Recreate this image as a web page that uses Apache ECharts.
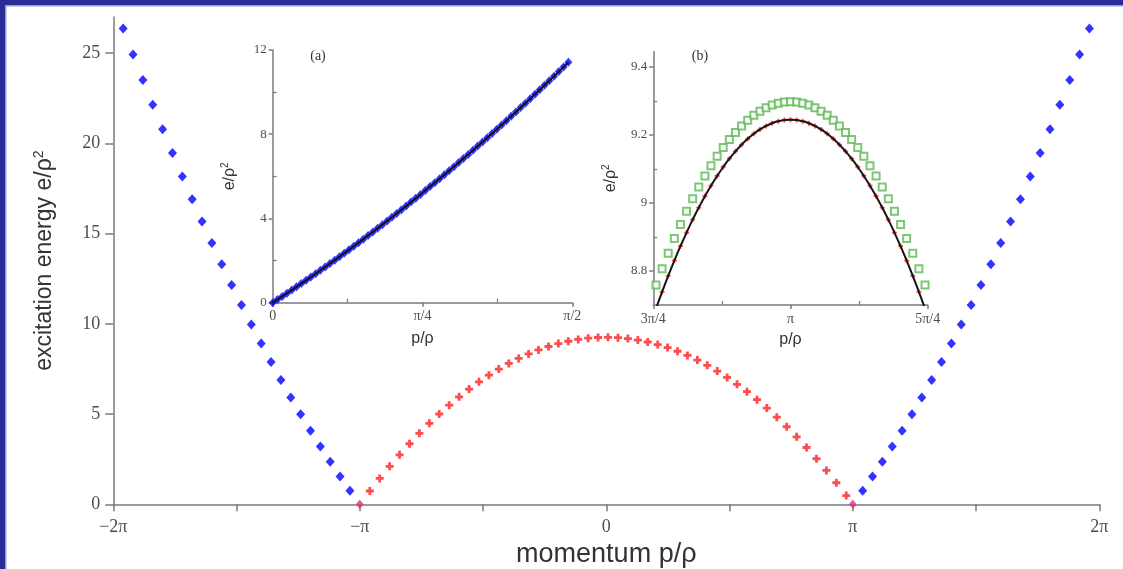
<!DOCTYPE html>
<html>
<head>
<meta charset="utf-8">
<script src="https://cdn.jsdelivr.net/npm/echarts@6/dist/echarts.min.js"></script>
<style>
  html, body { margin: 0; padding: 0; background: #ffffff; }
  #chart { width: 1123px; height: 569px; }
</style>
</head>
<body>
<div id="chart"></div>
<script>
const PI = Math.PI;

// ---- main panel: particle branch (blue), right and left of the zone edge
const blueRightP = [3.2673, 3.3929, 3.5186, 3.6443, 3.7699, 3.8956, 4.0212, 4.1469, 4.2726, 4.3982, 4.5239, 4.6496,
  4.7752, 4.9009, 5.0265, 5.1522, 5.2779, 5.4035, 5.5292, 5.6549, 5.7805, 5.9062, 6.0319, 6.1575];
const blueLeftP = [-3.2673, -3.3929, -3.5186, -3.6443, -3.7699, -3.8956, -4.0212, -4.1469, -4.2726, -4.3982, -4.5239, -4.6496,
  -4.7752, -4.9009, -5.0265, -5.1522, -5.2779, -5.4035, -5.5292, -5.6549, -5.7805, -5.9062, -6.0319, -6.1575];
const blueE = [0.757, 1.544, 2.360, 3.206, 4.082, 4.988, 5.922, 6.887, 7.882, 8.906, 9.960, 11.044,
  12.157, 13.300, 14.473, 15.675, 16.908, 18.168, 19.461, 20.782, 22.132, 23.513, 24.923, 26.363];

// ---- main panel: hole branch (red) between -π and π
const redP = [-3.014, -2.888, -2.761, -2.635, -2.508, -2.382, -2.255, -2.129, -2.002, -1.876, -1.749, -1.623,
  -1.496, -1.370, -1.243, -1.117, -0.990, -0.864, -0.737, -0.611, -0.484, -0.358, -0.231, -0.105, 0.022,
  0.149, 0.275, 0.402, 0.528, 0.655, 0.781, 0.908, 1.034, 1.161, 1.287, 1.414, 1.540, 1.667, 1.793,
  1.920, 2.046, 2.173, 2.299, 2.426, 2.552, 2.679, 2.805, 2.932, 3.058];
const redE = [0.737, 1.434, 2.106, 2.744, 3.356, 3.934, 4.486, 5.004, 5.495, 5.954, 6.385, 6.784,
  7.155, 7.493, 7.805, 8.083, 8.334, 8.553, 8.744, 8.903, 9.033, 9.133, 9.203, 9.243, 9.253,
  9.232, 9.182, 9.101, 8.992, 8.851, 8.681, 8.480, 8.251, 7.989, 7.700, 7.379, 7.030, 6.648, 6.239,
  5.797, 5.329, 4.826, 4.298, 3.736, 3.147, 2.525, 1.877, 1.194, 0.486];

// branches meet at the zone edges
const edgeP = [-3.1416, 3.1416];
const edgeE = [0, 0];

// ---- inset (a): particle branch, 0 ≤ p ≤ π/2
const insetAQ = [0, 0.025, 0.05, 0.075, 0.1, 0.125, 0.15, 0.175, 0.2, 0.225, 0.25, 0.275, 0.3, 0.325, 0.35, 0.375,
  0.4, 0.425, 0.45, 0.475, 0.5, 0.525, 0.55, 0.575, 0.6, 0.625, 0.65, 0.675, 0.7, 0.725, 0.75, 0.775,
  0.8, 0.825, 0.85, 0.875, 0.9, 0.925, 0.95, 0.975, 1.0, 1.025, 1.05, 1.075, 1.1, 1.125, 1.15, 1.175,
  1.2, 1.225, 1.25, 1.275, 1.3, 1.325, 1.35, 1.375, 1.4, 1.425, 1.45, 1.475, 1.5, 1.525, 1.55];
const insetAE = [0, 0.1482, 0.2977, 0.4483, 0.6000, 0.7530, 0.9071, 1.0624, 1.2188, 1.3765, 1.5353, 1.6953,
  1.8565, 2.0188, 2.1823, 2.3470, 2.5129, 2.6799, 2.8481, 3.0175, 3.1881, 3.3598, 3.5328, 3.7069,
  3.8821, 4.0586, 4.2362, 4.4150, 4.5950, 4.7761, 4.9584, 5.1419, 5.3266, 5.5124, 5.6994, 5.8876,
  6.0770, 6.2675, 6.4592, 6.6521, 6.8462, 7.0415, 7.2379, 7.4355, 7.6342, 7.8342, 8.0353, 8.2376,
  8.4410, 8.6457, 8.8515, 9.0585, 9.2667, 9.4760, 9.6865, 9.8982, 10.1111, 10.3251, 10.5404, 10.7567,
  10.9743, 11.1931, 11.4130];

// ---- inset (b): top of the hole branch, 3π/4 ≤ p ≤ 5π/4
const insetBP = [2.3716, 2.4066, 2.4416, 2.4766, 2.5116, 2.5466, 2.5816, 2.6166, 2.6516, 2.6866, 2.7216, 2.7566,
  2.7916, 2.8266, 2.8616, 2.8966, 2.9316, 2.9666, 3.0016, 3.0366, 3.0716, 3.1066, 3.1416, 3.1766,
  3.2116, 3.2466, 3.2816, 3.3166, 3.3516, 3.3866, 3.4216, 3.4566, 3.4916, 3.5266, 3.5616, 3.5966,
  3.6316, 3.6666, 3.7016, 3.7366, 3.7716, 3.8066, 3.8416, 3.8766, 3.9116];
const insetBRed = [8.6892, 8.7385, 8.7856, 8.8304, 8.8729, 8.9131, 8.9510, 8.9866, 9.0199, 9.0509, 9.0796, 9.1060,
  9.1302, 9.1520, 9.1715, 9.1887, 9.2037, 9.2163, 9.2266, 9.2347, 9.2404, 9.2439, 9.2450, 9.2439,
  9.2404, 9.2347, 9.2266, 9.2163, 9.2037, 9.1887, 9.1715, 9.1520, 9.1302, 9.1060, 9.0796, 9.0509,
  9.0199, 8.9866, 8.9510, 8.9131, 8.8729, 8.8304, 8.7856, 8.7385, 8.6892];
const insetBGreen = [8.7585, 8.8064, 8.8521, 8.8956, 8.9368, 8.9758, 9.0126, 9.0472, 9.0795, 9.1096, 9.1375, 9.1631,
  9.1865, 9.2077, 9.2267, 9.2434, 9.2579, 9.2701, 9.2802, 9.2880, 9.2935, 9.2969, 9.2980, 9.2969,
  9.2935, 9.2880, 9.2802, 9.2701, 9.2579, 9.2434, 9.2267, 9.2077, 9.1865, 9.1631, 9.1375, 9.1096,
  9.0795, 9.0472, 9.0126, 8.9758, 8.9368, 8.8956, 8.8521, 8.8064, 8.7585];

// ---- tick positions (in units of π where noted) and labels
const mainXLabelPi = [-2, -1, 0, 1, 2];
const mainXLabels = ['\u22122\u03c0', '\u2212\u03c0', '0', '\u03c0', '2\u03c0'];
const mainXTickPi = [-2, -1.5, -1, -0.5, 0, 0.5, 1, 1.5, 2];
const mainYTicks = [0, 5, 10, 15, 20, 25];

const insetAXLabelPi = [0, 0.25, 0.5];
const insetAXLabels = ['0', '\u03c0/4', '\u03c0/2'];
const insetAXMinorPi = [0.125, 0.375];
const insetAYTicks = [0, 4, 8, 12];
const insetAYMinor = [2, 6, 10];

const insetBXLabelPi = [0.75, 1, 1.25];
const insetBXLabels = ['3\u03c0/4', '\u03c0', '5\u03c0/4'];
const insetBXMinorPi = [0.875, 1.125];
const insetBYTicks = [8.8, 9, 9.2, 9.4];
const insetBYLabels = ['8.8', '9', '9.2', '9.4'];
const insetBYMinor = [8.9, 9.1, 9.3];

const zip = (xs, ys) => xs.map((x, i) => [x, ys[i]]);
const lookup = (vals, labels) => (v) => {
  const i = vals.findIndex(t => Math.abs(t - v) < 1e-6);
  return i >= 0 ? labels[i] : '';
};

const AXIS_GREY = '#7a7a7a';
const SERIF = '"Liberation Serif", "DejaVu Serif", serif';
const SANS = '"Liberation Sans", Arial, sans-serif';
const PLUS = 'path://M2.6,0H5.4V2.6H8V5.4H5.4V8H2.6V5.4H0V2.6H2.6Z';

// a visible axis with outward major ticks and labels
function majorAxis(o) {
  return {
    type: 'value', gridIndex: o.grid, min: o.min, max: o.max, position: o.position,
    axisLine: { show: true, onZero: false, lineStyle: { color: AXIS_GREY, width: 1.5 } },
    axisTick: { show: true, inside: false, length: o.tickLen, customValues: o.ticks,
      lineStyle: { color: AXIS_GREY, width: 1.5 } },
    axisLabel: { show: true, customValues: o.labelVals, formatter: o.formatter, margin: o.margin,
      fontFamily: SERIF, fontSize: o.fontSize, color: '#4d4d4d' },
    splitLine: { show: false },
    name: o.name, nameLocation: 'middle', nameGap: o.nameGap, nameRotate: o.nameRotate,
    nameTextStyle: o.nameStyle
  };
}
// a companion axis carrying only the short inside minor ticks
function minorAxis(o) {
  return {
    type: 'value', gridIndex: o.grid, min: o.min, max: o.max, position: o.position,
    axisLine: { show: false, onZero: false },
    axisTick: { show: true, inside: true, length: 4, customValues: o.ticks,
      lineStyle: { color: AXIS_GREY, width: 1.2 } },
    axisLabel: { show: false }, splitLine: { show: false }
  };
}

const axisNameRich = (size) => ({
  m: { fontFamily: SANS, fontSize: size, color: '#333' },
  s: { fontFamily: SANS, fontSize: Math.round(size * 0.62), color: '#333', verticalAlign: 'top', padding: [0, 0, size * 0.5, 0] }
});

const option = {
  animation: false,
  backgroundColor: '#ffffff',
  grid: [
    { left: 113.3, width: 986, top: 17, height: 487.3, containLabel: false, outerBoundsMode: 'none' },
    { left: 272.7, width: 299.6, top: 50, height: 252.7, containLabel: false, outerBoundsMode: 'none' },
    { left: 653.3, width: 274.4, top: 51.7, height: 253.3, containLabel: false, outerBoundsMode: 'none' }
  ],
  xAxis: [
    majorAxis({ grid: 0, min: -2 * PI, max: 2 * PI, position: 'bottom', tickLen: 7,
      ticks: mainXTickPi.map(k => k * PI), labelVals: mainXLabelPi.map(k => k * PI),
      formatter: lookup(mainXLabelPi.map(k => k * PI), mainXLabels), margin: 14, fontSize: 18,
      name: 'momentum p/\u03c1', nameGap: 28, nameStyle: { fontFamily: SANS, fontSize: 27, color: '#333' } }),
    majorAxis({ grid: 1, min: 0, max: PI / 2, position: 'bottom', tickLen: 4,
      ticks: insetAXLabelPi.map(k => k * PI), labelVals: insetAXLabelPi.map(k => k * PI),
      formatter: lookup(insetAXLabelPi.map(k => k * PI), insetAXLabels), margin: 7, fontSize: 14,
      name: 'p/\u03c1', nameGap: 28, nameStyle: { fontFamily: SANS, fontSize: 16, color: '#333' } }),
    minorAxis({ grid: 1, min: 0, max: PI / 2, position: 'bottom', ticks: insetAXMinorPi.map(k => k * PI) }),
    majorAxis({ grid: 2, min: 0.75 * PI, max: 1.25 * PI, position: 'bottom', tickLen: 4,
      ticks: insetBXLabelPi.map(k => k * PI), labelVals: insetBXLabelPi.map(k => k * PI),
      formatter: lookup(insetBXLabelPi.map(k => k * PI), insetBXLabels), margin: 7, fontSize: 14,
      name: 'p/\u03c1', nameGap: 27, nameStyle: { fontFamily: SANS, fontSize: 16, color: '#333' } }),
    minorAxis({ grid: 2, min: 0.75 * PI, max: 1.25 * PI, position: 'bottom', ticks: insetBXMinorPi.map(k => k * PI) })
  ],
  yAxis: [
    majorAxis({ grid: 0, min: 0, max: 27, position: 'left', tickLen: 8,
      ticks: mainYTicks, labelVals: mainYTicks, formatter: (v) => String(Math.round(v)), margin: 13, fontSize: 18,
      name: '{m|excitation energy e/\u03c1}{s|2}', nameGap: 56, nameRotate: 90,
      nameStyle: { rich: axisNameRich(23) } }),
    majorAxis({ grid: 1, min: 0, max: 12, position: 'left', tickLen: 4,
      ticks: insetAYTicks, labelVals: insetAYTicks, formatter: (v) => String(Math.round(v)), margin: 6, fontSize: 13,
      name: '{m|e/\u03c1}{s|2}', nameGap: 34, nameRotate: 90, nameStyle: { rich: axisNameRich(16) } }),
    minorAxis({ grid: 1, min: 0, max: 12, position: 'left', ticks: insetAYMinor }),
    majorAxis({ grid: 2, min: 8.7, max: 9.445, position: 'left', tickLen: 4,
      ticks: insetBYTicks, labelVals: insetBYTicks, formatter: lookup(insetBYTicks, insetBYLabels), margin: 6, fontSize: 13,
      name: '{m|e/\u03c1}{s|2}', nameGap: 34, nameRotate: 90, nameStyle: { rich: axisNameRich(16) } }),
    minorAxis({ grid: 2, min: 8.7, max: 9.445, position: 'left', ticks: insetBYMinor })
  ],
  series: [
    // main panel
    { type: 'scatter', xAxisIndex: 0, yAxisIndex: 0, data: zip(blueLeftP, blueE),
      symbol: 'diamond', symbolSize: [9, 10], itemStyle: { color: '#0000ff' } },
    { type: 'scatter', xAxisIndex: 0, yAxisIndex: 0, data: zip(blueRightP, blueE),
      symbol: 'diamond', symbolSize: [9, 10], itemStyle: { color: '#0000ff' } },
    { type: 'scatter', xAxisIndex: 0, yAxisIndex: 0, data: zip(redP, redE),
      symbol: PLUS, symbolSize: [8, 8], itemStyle: { color: '#ff1f1f' } },
    { type: 'scatter', xAxisIndex: 0, yAxisIndex: 0, data: zip(edgeP, edgeE),
      symbol: 'diamond', symbolSize: [8, 9], itemStyle: { color: '#e0307f' } },
    // inset (a)
    { type: 'line', xAxisIndex: 1, yAxisIndex: 1, data: zip(insetAQ, insetAE), showSymbol: false,
      lineStyle: { color: '#111', width: 2 } },
    { type: 'scatter', xAxisIndex: 1, yAxisIndex: 1, data: zip(insetAQ, insetAE),
      symbol: 'diamond', symbolSize: [8, 9], itemStyle: { color: '#0000ff' } },
    // inset (b)
    { type: 'scatter', xAxisIndex: 3, yAxisIndex: 3, data: zip(insetBP, insetBGreen),
      symbol: 'emptyRect', symbolSize: [7, 7], itemStyle: { color: '#5cb852', borderWidth: 1.3 } },
    { type: 'line', xAxisIndex: 3, yAxisIndex: 3, data: zip(insetBP, insetBRed), showSymbol: false, smooth: true,
      lineStyle: { color: '#151515', width: 2 } },
    { type: 'scatter', xAxisIndex: 3, yAxisIndex: 3, data: zip(insetBP, insetBRed),
      symbol: PLUS, symbolSize: [5, 5], itemStyle: { color: '#ff2a2a', opacity: 0.85 } }
  ],
  graphic: [
    { type: 'rect', silent: true, shape: { x: 0, y: 0, width: 1123, height: 5 }, style: { fill: '#2b2b95' } },
    { type: 'rect', silent: true, shape: { x: 0, y: 5, width: 1123, height: 1.5 }, style: { fill: '#9a9ad6' } },
    { type: 'rect', silent: true, shape: { x: 0, y: 0, width: 5, height: 569 }, style: { fill: '#2b2b95' } },
    { type: 'rect', silent: true, shape: { x: 5, y: 6, width: 1.5, height: 563 }, style: { fill: '#9a9ad6' } },
    { type: 'text', silent: true, x: 318, y: 56,
      style: { text: '(a)', font: '14px "Liberation Serif", serif', fill: '#333', textAlign: 'center', textVerticalAlign: 'middle' } },
    { type: 'text', silent: true, x: 700, y: 56,
      style: { text: '(b)', font: '14px "Liberation Serif", serif', fill: '#333', textAlign: 'center', textVerticalAlign: 'middle' } }
  ]
};

const chart = echarts.init(document.getElementById('chart'), null, { renderer: 'canvas' });
chart.setOption(option);
</script>
</body>
</html>
